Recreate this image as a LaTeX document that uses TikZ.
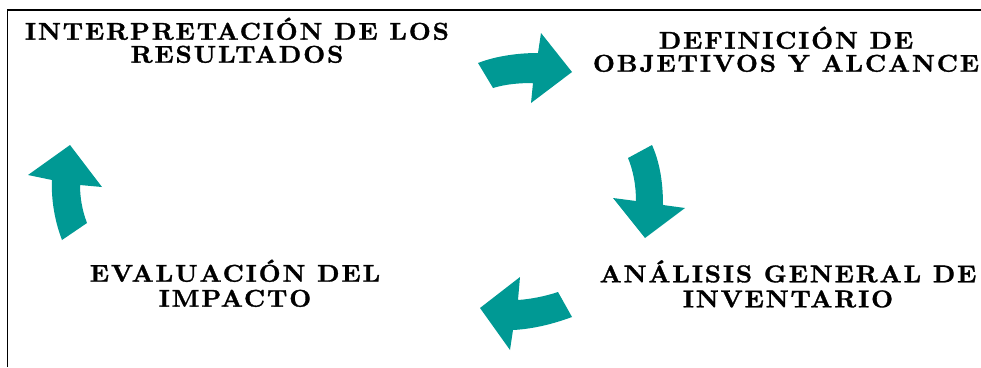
\documentclass[tikz,border=0pt]{standalone}
\usepackage{fontspec}
\newfontfamily\lblfont{lmroman10-bold}[Extension=.otf,LetterSpace=7.5,FakeStretch=1.05,FakeBold=1.2]
\definecolor{teal1}{RGB}{0,153,148}
\tikzset{
  frameline/.style={draw=black,line width=1.2pt},
  cyc/.style={fill=teal1,draw=none},
  toplbl/.style={align=center,anchor=base,inner sep=0pt,font=\lblfont\fontsize{24.3}{23}\selectfont},
  botlbl/.style={align=center,anchor=base,inner sep=0pt,font=\lblfont\fontsize{24.3}{25}\selectfont}
}
\begin{document}
\begin{tikzpicture}[x=1pt,y=-1pt]
\useasboundingbox (0,0) rectangle (981,367);
% frame
\coordinate (fa) at (7.5,367);
\coordinate (fb) at (7.5,10);
\coordinate (fc) at (981,10);
\draw[frameline] (fa) -- (fb) -- (fc);
% labels (anchored at the baseline of the last line)
\node[toplbl] (t1) at (237,62.7) {INTERPRETACIÓN DE LOS\\RESULTADOS};
\node[toplbl] (t2) at (786,71.7) {DEFINICIÓN DE\\OBJETIVOS Y ALCANCE};
\node[botlbl] (t3) at (235,306.7) {EVALUACIÓN DEL\\IMPACTO};
\node[botlbl] (t4) at (788,307.3) {ANÁLISIS GENERAL DE\\INVENTARIO};
% arrow right (top)
\fill[cyc] (478,63) -- (493,88) .. controls (506,84) and (520,83) .. (533,83)
  -- (531,103) -- (572,72) -- (541,33) -- (538,53)
  .. controls (518,53) and (496,56) .. (478,63) -- cycle;
% arrow down (right)
\fill[cyc] (652,145) .. controls (660,163) and (663,183) .. (663,205)
  -- (685,208) -- (645,238) -- (613,198) -- (636,201)
  .. controls (636,185) and (633,170) .. (628,158) -- cycle;
% arrow left (bottom)
\fill[cyc] (558,292) -- (572,317) .. controls (553,324) and (533,329) .. (513,330)
  -- (510,350) -- (480,308) -- (520,277) -- (518,300)
  .. controls (532,299) and (546,296) .. (558,292) -- cycle;
% arrow up (left)
\fill[cyc] (62,240) -- (87,223) .. controls (82,210) and (80,197) .. (80,185)
  -- (102,187) -- (70,145) -- (28,175) -- (52,180)
  .. controls (51,200) and (55,222) .. (62,240) -- cycle;
\end{tikzpicture}
\end{document}
